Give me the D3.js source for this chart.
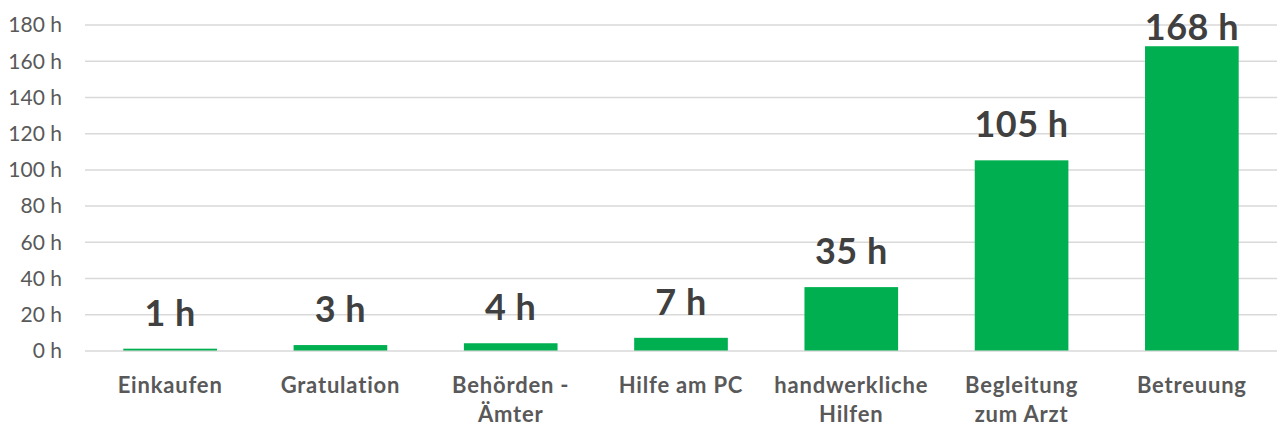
<!DOCTYPE html>
<html>
<head>
<meta charset="utf-8">
<script src="https://cdn.jsdelivr.net/npm/d3@7"></script>
<style>
  body { margin: 0; background: #fff; }
  svg text { font-family: Lato, "Open Sans", sans-serif; font-variant-ligatures: none; }
</style>
</head>
<body>
<svg id="chart" width="1282" height="429"></svg>
<script>
// chart data
var categories = [["Einkaufen"], ["Gratulation"], ["Behörden -", "Ämter"], ["Hilfe am PC"],
  ["handwerkliche", "Hilfen"], ["Begleitung", "zum Arzt"], ["Betreuung"]];
var hours = [1, 3, 4, 7, 35, 105, 168];
var valueLabels = ["1 h", "3 h", "4 h", "7 h", "35 h", "105 h", "168 h"];
var yTicks = [0, 20, 40, 60, 80, 100, 120, 140, 160, 180];

var svg = d3.select("#chart");
var plotLeft = 85, plotRight = 1277, plotTop = 24.5, plotBottom = 350.5;

var x = d3.scaleBand()
  .domain(d3.range(hours.length))
  .range([plotLeft, plotRight])
  .paddingInner(0.45)
  .paddingOuter(0.225);
var y = d3.scaleLinear().domain([0, 180]).range([plotBottom, plotTop]);

// gridlines + tick labels
var yAxis = d3.axisLeft(y).tickValues(yTicks).tickSize(-(plotRight - plotLeft))
  .tickFormat(function (d) { return d + " h"; });
var ga = svg.append("g").attr("transform", "translate(" + plotLeft + ",0)").call(yAxis);
ga.select(".domain").remove();
ga.selectAll(".tick line").attr("stroke", "#d9d9d9").attr("stroke-width", 1.5);
ga.selectAll(".tick text")
  .attr("x", -23)
  .attr("dy", "0.35em")
  .attr("fill", "#595959")
  .style("font-size", "21px");

// bars
svg.append("g").selectAll("rect")
  .data(hours)
  .enter().append("rect")
  .attr("x", function (d, i) { return x(i); })
  .attr("width", x.bandwidth())
  .attr("y", function (d) { return y(d); })
  .attr("height", function (d) { return plotBottom - y(d); })
  .attr("fill", "#00b050");

// value labels
svg.append("g").selectAll("text")
  .data(hours)
  .enter().append("text")
  .attr("x", function (d, i) { return x(i) + x.bandwidth() / 2; })
  .attr("y", function (d) { return Math.max(y(d) - 23, 40); })
  .attr("text-anchor", "middle")
  .attr("fill", "#404040")
  .style("font-size", "36px")
  .style("font-weight", "bold")
  .style("letter-spacing", "0.5px")
  .text(function (d, i) { return valueLabels[i]; });

// category labels
var cat = svg.append("g").selectAll("text")
  .data(categories)
  .enter().append("text")
  .attr("text-anchor", "middle")
  .attr("fill", "#595959")
  .style("font-size", "22px")
  .style("font-weight", "bold")
  .style("letter-spacing", "0.8px");
cat.selectAll("tspan")
  .data(function (d, i) { return d.map(function (t) { return { t: t, i: i }; }); })
  .enter().append("tspan")
  .attr("x", function (d) { return x(d.i) + x.bandwidth() / 2; })
  .attr("y", function (d, j) { return 393 + j * 29; })
  .text(function (d) { return d.t; });
</script>
</body>
</html>
